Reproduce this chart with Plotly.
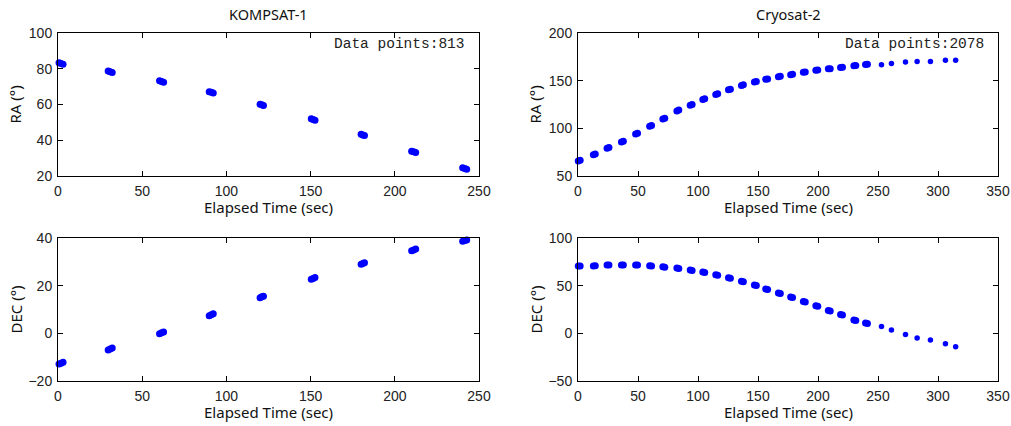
import plotly.graph_objects as go

# ---------------- data ----------------
k_time = [0.6, 1.8, 3.0, 29.8, 31.0, 32.2, 60.3, 61.5, 62.7, 89.8, 91.0, 92.2,
          120.0, 121.0, 122.0, 150.4, 151.5, 152.6, 180.0, 181.0, 182.0,
          210.0, 211.2, 212.4, 240.3, 241.5, 242.7]
k_ra = [83.3, 82.9, 82.5, 78.7, 78.3, 77.9, 73.3, 72.9, 72.5, 67.2, 66.8, 66.4,
        60.1, 59.8, 59.5, 52.0, 51.6, 51.2, 43.3, 43.0, 42.7, 33.9, 33.5, 33.1,
        24.6, 24.2, 23.8]
k_dec = [-12.9, -12.5, -12.1, -7.0, -6.6, -6.2, -0.2, 0.2, 0.6, 7.4, 7.8, 8.2,
         14.9, 15.3, 15.6, 22.7, 23.0, 23.4, 29.0, 29.3, 29.6, 34.6, 35.0, 35.4,
         38.6, 38.9, 39.2]

c_time = [0.2, 1.8, 12.8, 14.4, 24.2, 25.8, 36.2, 37.8, 48.0, 49.6, 59.7, 61.3,
          70.7, 72.3, 82.4, 84.0, 93.5, 95.1, 104.0, 105.6, 114.8, 116.4,
          125.4, 127.0, 136.2, 137.8, 147.0, 148.6, 156.4, 158.0, 167.0, 168.6,
          177.2, 178.8, 187.8, 189.4, 198.2, 199.8, 208.6, 210.2, 218.8, 220.4,
          229.9, 231.5, 239.6, 241.2, 252.9, 261.2, 272.9, 282.6, 293.7, 306.2, 314.7]
c_ra = [65.7, 66.5, 72.4, 73.2, 79.0, 79.8, 85.6, 86.4, 94.1, 94.9, 102.1, 102.9,
        109.9, 110.7, 118.3, 119.1, 124.2, 125.0, 130.2, 131.0, 135.6, 136.2,
        140.5, 141.1, 145.0, 145.6, 148.5, 149.1, 151.4, 151.8, 154.2, 154.6,
        156.3, 156.7, 158.8, 159.2, 160.9, 161.3, 162.4, 162.6, 163.8, 164.0,
        165.6, 165.8, 166.9, 167.1, 166.7, 168.1, 169.5, 170.2, 170.2, 171.3, 171.3]
c_dec = [70.7, 70.7, 70.6, 70.8, 71.6, 71.8, 71.7, 71.7, 71.8, 71.6, 70.9, 70.5,
         69.8, 69.4, 68.5, 67.9, 66.4, 65.8, 64.3, 63.7, 61.4, 60.8,
         58.3, 57.7, 54.7, 54.1, 50.8, 50.2, 46.6, 46.0, 42.3, 41.7,
         38.1, 37.5, 33.5, 32.9, 28.9, 28.3, 24.0, 23.4, 19.7, 19.1,
         14.1, 13.5, 10.9, 10.3, 7.1, 3.5, -1.1, -4.9, -7.1, -11.0, -14.1]

titles = ["KOMPSAT-1", "Cryosat-2"]
counts = ["Data points:813", "Data points:2078"]
x_label = "Elapsed Time (sec)"
y_labels = ["RA (°)", "DEC (°)"]

# ---------------- layout geometry ----------------
W, H = 1011, 426
xdom = [[58 / W, 479 / W], [578 / W, 998 / W]]
ydom = [[1 - 176 / H, 1 - 33 / H], [1 - 381 / H, 1 - 238 / H]]
N_DENSE = 46  # Cryosat samples drawn as denser (larger) blobs

BLUE = "#0000ff"
fig = go.Figure()

panels = [
    # (col, row, x, y, xrange, yrange, ydtick, kind)
    (0, 0, k_time, k_ra, [0, 250], [20, 100], 20, "k"),
    (1, 0, c_time, c_ra, [0, 350], [50, 200], 50, "c"),
    (0, 1, k_time, k_dec, [0, 250], [-20, 40], 20, "k"),
    (1, 1, c_time, c_dec, [0, 350], [-50, 100], 50, "c"),
]

annotations = []
for i, (col, row, xs, ys, xr, yr, ydt, kind) in enumerate(panels, start=1):
    sfx = "" if i == 1 else str(i)
    if kind == "k":
        groups = [(xs, ys, 7)]
    else:
        groups = [(xs[:N_DENSE], ys[:N_DENSE], 7), (xs[N_DENSE:], ys[N_DENSE:], 5.5)]
    for gx, gy, sz in groups:
        fig.add_trace(go.Scatter(
            x=gx, y=gy, mode="markers", xaxis="x" + sfx, yaxis="y" + sfx,
            marker=dict(color=BLUE, size=sz, line=dict(width=0)),
            cliponaxis=False, showlegend=False, hoverinfo="skip"))
    axcommon = dict(showline=True, linecolor="black", linewidth=1,
                    mirror="ticks", ticks="inside", ticklen=5,
                    tickcolor="black", showgrid=False, zeroline=False,
                    automargin=False,
                    tickfont=dict(family="Liberation Sans", size=14, color="#222222"))
    fig.layout["xaxis" + sfx] = dict(domain=xdom[col], range=xr, dtick=50,
                                     anchor="y" + sfx, ticklabelstandoff=2, **axcommon)
    fig.layout["yaxis" + sfx] = dict(domain=ydom[row], range=yr, dtick=ydt,
                                     anchor="x" + sfx, ticklabelstandoff=2, **axcommon)
    # x-axis title
    x_center = (xdom[col][0] + xdom[col][1]) / 2
    annotations.append(dict(
        text=x_label, xref="paper", yref="paper", x=x_center,
        y=ydom[row][0], yshift=-31, xanchor="center", yanchor="middle",
        showarrow=False, font=dict(family="Noto Sans", size=15, color="#111111")))
    # y-axis title
    annotations.append(dict(
        text=y_labels[row], xref="paper", yref="paper", x=xdom[col][0], xshift=-43,
        y=(ydom[row][0] + ydom[row][1]) / 2, xanchor="center", yanchor="middle",
        textangle=-90, showarrow=False,
        font=dict(family="Noto Sans", size=15, color="#111111")))
    if row == 0:
        annotations.append(dict(
            text=titles[col], xref="paper", yref="paper", x=x_center,
            y=ydom[0][1], yshift=19, xanchor="center", yanchor="middle",
            showarrow=False, font=dict(family="Noto Sans", size=14.5, color="#111111")))
        annotations.append(dict(
            text=counts[col], xref="paper", yref="paper", x=xdom[col][1],
            xshift=-12, y=ydom[0][1], yshift=-11, xanchor="right", yanchor="middle",
            showarrow=False,
            font=dict(family="Liberation Mono", size=14.5, color="#222222")))

fig.update_layout(width=W, height=H, margin=dict(l=0, r=0, t=0, b=0),
                  paper_bgcolor="white", plot_bgcolor="white",
                  annotations=annotations, showlegend=False)

fig.write_html("out.html", config={"displayModeBar": False},
               post_script="document.body.style.margin='0';document.body.style.overflow='hidden';")
